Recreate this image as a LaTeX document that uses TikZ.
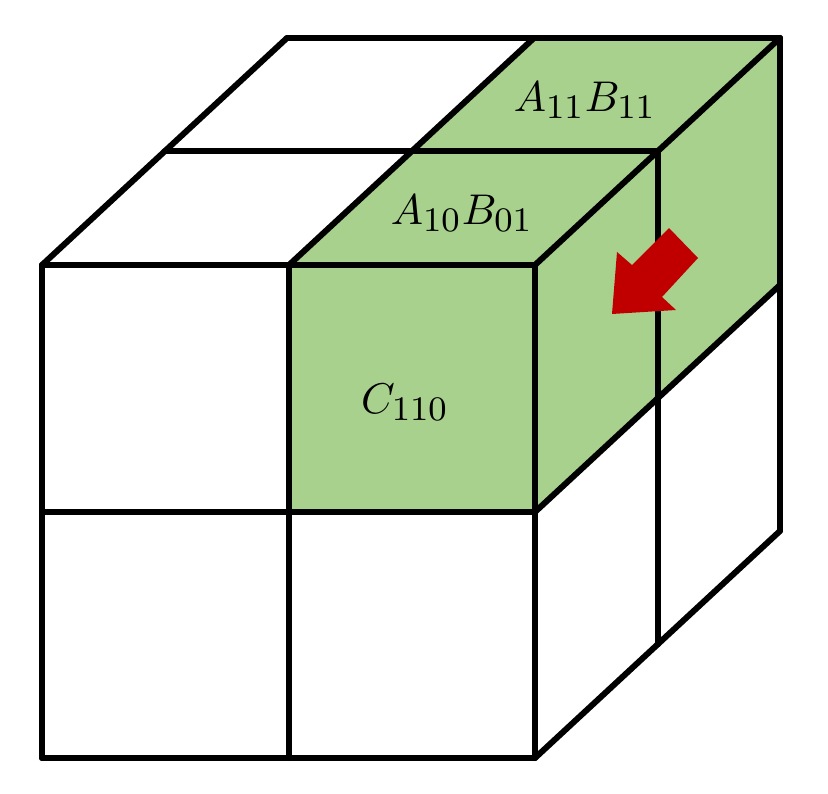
\documentclass[tikz,border=0pt]{standalone}
\usetikzlibrary{calc}
\DeclareMathSizes{10}{10}{8}{6}
\tikzset{
  edge/.style={draw=black, line width=6pt, line join=round, line cap=round},
  greenface/.style={fill=cubegreen, draw=none},
  lbl/.style={font=\fontsize{10}{12}\selectfont, inner sep=0pt, scale=4.3},
  redarrow/.style={fill=arrowred, draw=none}
}
\definecolor{cubegreen}{HTML}{A9D18E}
\definecolor{arrowred}{HTML}{C00000}
\begin{document}
\begin{tikzpicture}[x={(1pt,0)}, y={(0,-1pt)}]
\useasboundingbox (0,0) rectangle (828,794);
% front face points
\coordinate (f00) at (42,265);  \coordinate (f10) at (289,265);  \coordinate (f20) at (535,265);
\coordinate (f01) at (42,512);  \coordinate (f11) at (289,512);  \coordinate (f21) at (535,512);
\coordinate (f02) at (42,758);  \coordinate (f12) at (289,758);  \coordinate (f22) at (535,758);
% green faces
\path[greenface] (f10) -- (f20) -- ++(245,-227) -- ($(f10)+(245,-227)$) -- cycle;
\path[greenface] (f10) rectangle (f21);
\path[greenface] (f20) -- ++(245,-227) -- ++(0,247) -- (f21) -- cycle;
% front face grid
\draw[edge] (f00) -- (f02);
\draw[edge] (f10) -- (f12);
\draw[edge] (f20) -- (f22);
\draw[edge] (f00) -- (f20);
\draw[edge] (f01) -- (f21);
\draw[edge] (f02) -- (f22);
% top face
\draw[edge] (164.5,151.5) -- (657.5,151.5);
\draw[edge] (287,38) -- (780,38);
\draw[edge] (f00) -- ++(245,-227);
\draw[edge] (f10) -- ++(245,-227);
\draw[edge] (f20) -- ++(245,-227);
% right face
\draw[edge] (657.5,151.5) -- (657.5,644.5);
\draw[edge] (780,38) -- (780,531);
\draw[edge] (f21) -- ++(245,-227);
\draw[edge] (f22) -- ++(245,-227);
% arrow
\path[redarrow] (612,314) -- (617,252) -- (632,265) -- (669,228) -- (698,258) -- (662,297) -- (676,310) -- cycle;
% labels
\node[lbl] (a11) at (585,100) {$A_{11}B_{11}$};
\node[lbl] (a10) at (462,213) {$A_{10}B_{01}$};
\node[lbl] (c110) at (405,402) {$C_{110}$};
\end{tikzpicture}
\end{document}
